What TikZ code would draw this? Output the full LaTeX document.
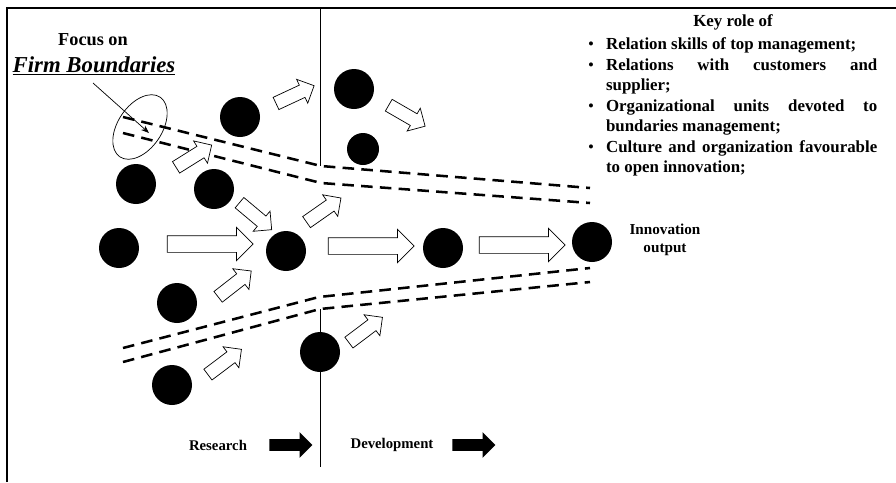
\documentclass[tikz,border=0pt]{standalone}
\usepackage{fontspec}
\setmainfont{Liberation Serif}
\usepackage{enumitem}
\usetikzlibrary{shapes.geometric,shapes.arrows,arrows.meta}

\tikzset{
  dot/.style={circle,fill=black,inner sep=0pt,minimum size=10mm},
  flowarrow/.style={single arrow,draw,line width=0.5pt,fill=white,inner xsep=0pt,inner ysep=2mm,
    minimum height=21.5mm,single arrow head extend=2.1mm},
  feedarrow/.style={single arrow,draw,line width=0.5pt,fill=white,inner xsep=0pt,inner ysep=1.6mm,
    minimum height=10.5mm,single arrow head extend=1.6mm},
  phasearrow/.style={single arrow,fill=black,inner xsep=0pt,inner ysep=1.4mm,
    minimum height=10.75mm,single arrow head extend=1.75mm},
  boundary/.style={line width=1.8pt,dash pattern=on 2.9mm off 1.8mm},
  pointer/.style={line width=0.5pt,-{Stealth[length=2mm,width=1.5mm]}}
}

\begin{document}
\begin{tikzpicture}[x=0.25mm,y=-0.25mm]
\useasboundingbox (0,0) rectangle (896,482);
% frame and research / development divider
\draw[line width=1.2pt] (7,482) -- (7,8) -- (896,8);
\draw[line width=0.7pt] (320,8) -- (320,166);
\draw[line width=0.7pt] (320,309) -- (320,467);
% firm boundaries
\draw[boundary] (123,117) -- (321,166) -- (590,188);
\draw[boundary] (123,133) -- (321,183) -- (590,203);
\draw[boundary] (123,348) -- (319,297) -- (590,268);
\draw[boundary] (123,362) -- (320,309) -- (590,282);
% projects
\node[dot] (p1) at (240,117) {};
\node[dot] (p2) at (136,184) {};
\node[dot] (p3) at (214,189) {};
\node[dot] (p4) at (119,248) {};
\node[dot] (p5) at (286,251) {};
\node[dot] (p6) at (177,303) {};
\node[dot] (p7) at (172,385) {};
\node[dot] (p8) at (320,352) {};
\node[dot] (p9) at (354,89) {};
\node[dot,minimum size=8mm] (p10) at (363,149) {};
\node[dot] (p11) at (443,248) {};
\node[dot] (p12) at (592,242) {};
% main flow
\node[flowarrow] (f1) at (206,244) {};
\node[flowarrow] (f2) at (367,246) {};
\node[flowarrow] (f3) at (518,245) {};
% small arrows
\node[feedarrow,rotate=25] (s1) at (292,96) {};
\node[feedarrow,rotate=-30] (s2) at (404,114) {};
\node[feedarrow,rotate=32] (s3) at (191,158) {};
\node[feedarrow,rotate=-40] (s4) at (253,214) {};
\node[feedarrow,rotate=35] (s5) at (321,212) {};
\node[feedarrow,rotate=38] (s6) at (232,286) {};
\node[feedarrow,rotate=37] (s7) at (363,332) {};
\node[feedarrow,rotate=37] (s8) at (222,364) {};
% focus label
\node[font=\bfseries\fontsize{13}{15}\selectfont] (focus) at (93,40) {Focus on};
\node[font=\bfseries\itshape\fontsize{16.2}{18}\selectfont] (fb) at (94,66) {\underline{Firm Boundaries}};
\node[ellipse,draw,line width=0.5pt,minimum width=18mm,minimum height=11mm,rotate=56] (zone) at (140,127) {};
\coordinate (ptail) at (93,83);
\coordinate (phead) at (149,133);
\draw[pointer] (ptail) -- (phead);
% key roles
\node[font=\bfseries\fontsize{12}{14}\selectfont] (key) at (733,22) {Key role of};
\node[anchor=north west,text width=73mm,align=justify,inner sep=0pt,font=\bfseries\fontsize{12}{14.6}\selectfont] (roles) at (585,29) {%
\begin{itemize}[leftmargin=5.2mm,labelsep=3mm,itemsep=0pt,topsep=0pt,parsep=0pt,partopsep=0pt]
\item Relation skills of top management;
\item Relations with customers and\linebreak supplier;
\item Organizational units devoted to\linebreak bundaries management;
\item Culture and organization favourable\linebreak to open innovation;
\end{itemize}};
% output and phases
\node[font=\bfseries\fontsize{10.8}{12.5}\selectfont,align=center] (out) at (665,240) {Innovation\\output};
\node[font=\bfseries\fontsize{10.5}{12}\selectfont] (res) at (218,445) {Research};
\node[phasearrow] (resarrow) at (288,445) {};
\node[font=\bfseries\fontsize{10.5}{12}\selectfont] (dev) at (392,445) {Development};
\node[phasearrow] (devarrow) at (471,445) {};
\end{tikzpicture}
\end{document}
